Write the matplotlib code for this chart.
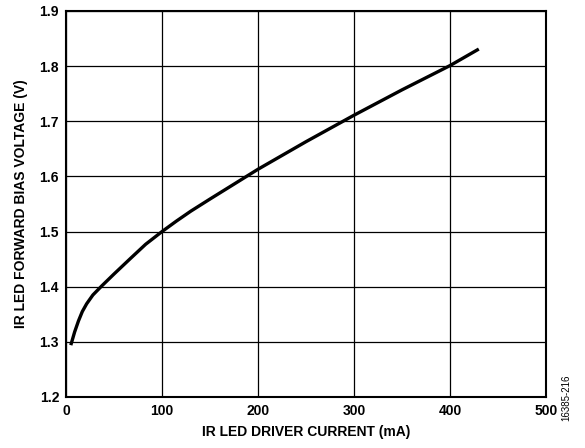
import matplotlib
matplotlib.use("Agg")
import matplotlib.pyplot as plt
import numpy as np

current_ma = [5, 9, 13, 17, 21.5, 28, 37, 50, 67, 83, 100, 115, 130, 150, 175, 200, 225, 250, 275, 300, 325, 350, 375, 400, 430]
voltage_v = [1.294, 1.318, 1.338, 1.355, 1.369, 1.385, 1.401, 1.423, 1.451, 1.477, 1.5, 1.519, 1.537, 1.559, 1.586, 1.613, 1.638, 1.663, 1.687, 1.711, 1.734, 1.757, 1.779, 1.801, 1.831]
x_ticks = [0, 100, 200, 300, 400, 500]
y_ticks = [1.2, 1.3, 1.4, 1.5, 1.6, 1.7, 1.8, 1.9]

plt.rcParams['font.family'] = ['Liberation Sans', 'DejaVu Sans']

fig = plt.figure(figsize=(5.85, 4.48), dpi=100)
ax = fig.add_axes([66/585, 1-397/448, (546-66)/585, (397-11)/448])

ax.plot(current_ma, voltage_v, color='black', lw=2.4, solid_capstyle='butt', solid_joinstyle='round')
ax.set_xlim(0, 500)
ax.set_ylim(1.2, 1.9)
ax.set_xticks(x_ticks)
ax.set_yticks(y_ticks)
ax.set_xticklabels([str(t) for t in x_ticks], fontsize=10, fontweight='bold')
ax.set_yticklabels([f"{t:.1f}" for t in y_ticks], fontsize=10, fontweight='bold')
ax.grid(True, color='black', lw=0.9)
ax.tick_params(length=0, pad=5)
for s in ax.spines.values():
    s.set_linewidth(1.5)
    s.set_color('black')
ax.set_xlabel('IR LED DRIVER CURRENT (mA)', fontsize=10, fontweight='bold', labelpad=5)
ax.set_ylabel('IR LED FORWARD BIAS VOLTAGE (V)', fontsize=10, fontweight='bold', labelpad=8)
fig.text(0.968, 0.06, '16385-216', rotation=90, fontsize=7, ha='center', va='bottom')

fig.savefig('out.png', dpi=100)
